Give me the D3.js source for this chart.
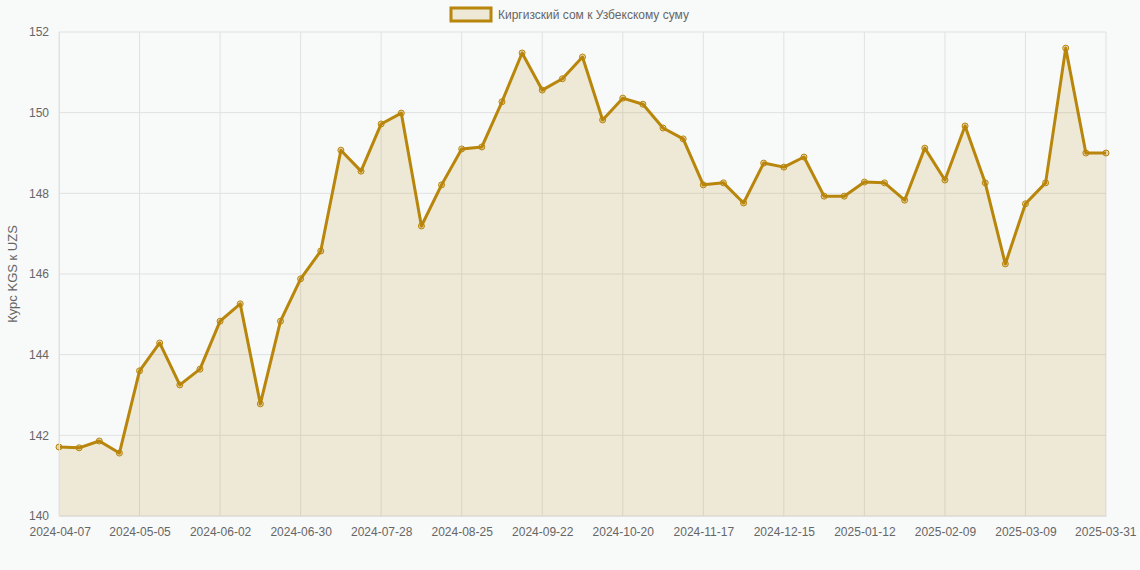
<!DOCTYPE html>
<html><head><meta charset="utf-8">
<script src="https://cdn.jsdelivr.net/npm/d3@7.9.0/dist/d3.min.js"></script>
<style>
body{margin:0;background:#f8f9f9;font-family:"Liberation Sans",Arial,sans-serif;}
</style></head>
<body><svg id="chart" width="1140" height="570"></svg>
<script>
// weekly rates KGS -> UZS
const startDate = new Date(2024, 3, 7);
const dates = d3.range(52).map(i => d3.timeFormat('%Y-%m-%d')(d3.timeDay.offset(startDate, i * 7))).concat(['2025-03-31']);
const rates = [141.71,141.69,141.86,141.56,143.6,144.29,143.25,143.64,144.83,145.26,
  142.78,144.83,145.88,146.57,149.07,148.55,149.72,149.99,147.19,148.21,
  149.1,149.15,150.27,151.48,150.56,150.84,151.38,149.82,150.36,150.21,
  149.62,149.35,148.21,148.26,147.76,148.75,148.65,148.9,147.93,147.93,
  148.28,148.26,147.83,149.12,148.33,149.67,148.26,146.25,147.74,148.26,
  151.6,149.0,149.0];
const yTicks = [140,142,144,146,148,150,152];
const seriesName = 'Киргизский сом к Узбекскому суму';

const color = '#b8860b';
const svg = d3.select('#chart');
const m = {l:59, r:34, t:32, b:54};
const W = 1140, H = 570;

const x = d3.scalePoint().domain(dates).range([m.l, W - m.r]);
const y = d3.scaleLinear().domain([140,152]).range([H - m.b, m.t]);

const shown = dates.filter((d,i) => i % 4 === 0 || i === dates.length - 1);

// grid
svg.append('g').selectAll('line').data(yTicks).join('line')
  .attr('x1', m.l).attr('x2', W - m.r).attr('y1', y).attr('y2', y)
  .attr('stroke', '#e1e1e1');
svg.append('g').selectAll('line').data(shown).join('line')
  .attr('x1', x).attr('x2', x).attr('y1', m.t).attr('y2', H - m.b)
  .attr('stroke', '#e1e1e1');

// area + line
svg.append('path').datum(rates)
  .attr('d', d3.area().x((d,i) => x(dates[i])).y0(y(140)).y1(d => y(d)))
  .attr('fill', 'rgba(184,134,11,0.15)');
svg.append('path').datum(rates)
  .attr('d', d3.line().x((d,i) => x(dates[i])).y(d => y(d)))
  .attr('fill', 'none').attr('stroke', color).attr('stroke-width', 3).attr('stroke-linejoin', 'round');
svg.append('g').selectAll('circle').data(rates).join('circle')
  .attr('cx', (d,i) => x(dates[i])).attr('cy', d => y(d)).attr('r', 3)
  .attr('fill', 'rgba(184,134,11,0.3)').attr('stroke', color).attr('stroke-width', 1);

// axes
const yAx = svg.append('g').attr('transform', `translate(${m.l},0)`)
  .call(d3.axisLeft(y).tickValues(yTicks).tickSize(0).tickPadding(10));
const xAx = svg.append('g').attr('transform', `translate(0,${H - m.b})`)
  .call(d3.axisBottom(x).tickValues(shown).tickSize(0).tickPadding(11));
[yAx, xAx].forEach(a => {
  a.select('.domain').attr('stroke', '#e1e1e1');
  a.selectAll('text').attr('fill', '#666').attr('font-size', 12).attr('font-family', '"Liberation Sans",Arial,sans-serif');
});
xAx.selectAll('text').filter((d,i) => i === 0).attr('text-anchor', 'start').attr('dx', -30);
xAx.selectAll('text').filter((d,i,n) => i === n.length - 1).attr('text-anchor', 'end').attr('dx', 30);

svg.append('text').attr('transform', `translate(17,${(m.t + H - m.b)/2}) rotate(-90)`)
  .attr('text-anchor', 'middle').attr('fill', '#666').attr('font-size', 13).text('Курс KGS к UZS');

// legend
const lg = svg.append('g').attr('transform', 'translate(451,8)');
lg.append('rect').attr('width', 40).attr('height', 13)
  .attr('fill', 'rgba(184,134,11,0.15)').attr('stroke', color).attr('stroke-width', 3);
lg.append('text').attr('x', 47).attr('y', 11).attr('fill', '#666').attr('font-size', 12).text(seriesName);
</script></body></html>
